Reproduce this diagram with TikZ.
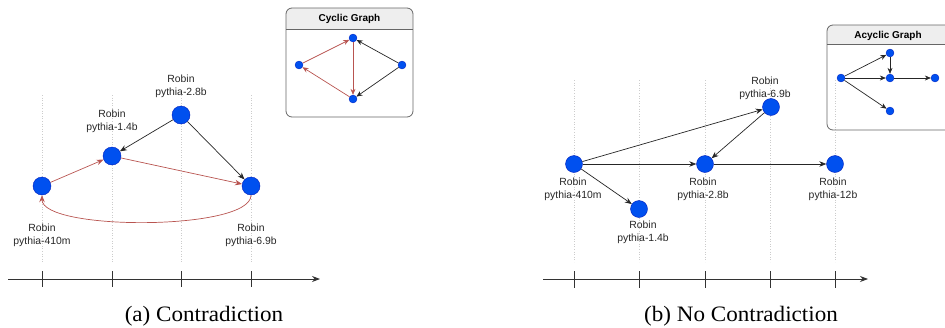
\documentclass[tikz,border=0pt]{standalone}
\usepackage{fontspec}
\setmainfont{Liberation Serif}
\newfontfamily\lsans{Liberation Sans}
\usetikzlibrary{arrows.meta}
\definecolor{nodeblue}{HTML}{0050EF}
\definecolor{nodeborder}{HTML}{001DBC}
\definecolor{redge}{HTML}{B85450}
\definecolor{gridgray}{HTML}{CCCCCC}
\definecolor{hdr}{HTML}{EEEEEE}
\definecolor{axisgray}{HTML}{333333}
\definecolor{boxgray}{HTML}{666666}
\begin{document}
\begin{tikzpicture}[x=1pt,y=-1pt,
  big/.style={circle,fill=nodeblue,draw=nodeborder,line width=0.4pt,minimum size=18pt,inner sep=0pt},
  bigr/.style={big,minimum size=17pt},
  dotnode/.style={circle,fill=nodeblue,draw=nodeborder,line width=0.3pt,minimum size=8pt,inner sep=0pt},
  lbl/.style={font=\lsans\fontsize{10.4}{13}\selectfont,align=center,inner sep=0pt,text=black!85},
  blkarrow/.style={draw=black!85,line width=0.7pt,-{Stealth[length=7pt,width=5.5pt]}},
  redarrow/.style={draw=redge,line width=0.7pt,-{Stealth[length=7pt,width=5.5pt]}},
  smallblk/.style={draw=black!85,line width=0.7pt,-{Stealth[length=6pt,width=5pt]}},
  smallred/.style={draw=redge,line width=0.7pt,-{Stealth[length=6pt,width=5pt]}},
  gridline/.style={draw=gridgray,dotted,line width=0.6pt},
  axisline/.style={draw=axisgray,line width=0.8pt},
  ticknode/.style={draw=axisgray,line width=0.8pt},
  boxframe/.style={draw=boxgray,line width=0.8pt,rounded corners=6pt},
  boxtitle/.style={font=\lsans\bfseries\fontsize{10}{12}\selectfont,inner sep=0pt},
  caption/.style={font=\fontsize{22}{26}\selectfont,xscale=1.05,inner sep=0pt,anchor=base}
]
\useasboundingbox (0,0) rectangle (945,327);
\clip (0,0) rectangle (945,327);

% ---------------- left panel ----------------
\foreach \x in {42,112,181,251} {
  \draw[gridline] (\x,95) -- (\x,262);
  \draw[ticknode] (\x,271) -- (\x,287);
}
\coordinate (axLs) at (8,279);
\coordinate (axLe) at (320,279);
\draw[axisline,-{Stealth[length=8pt,width=6pt]}] (axLs) -- (axLe);

\node[big] (a410) at (42,186) {};
\node[big] (a14) at (112,156) {};
\node[big] (a28) at (181,115) {};
\node[big] (a69) at (251,186) {};

\node[lbl] (la28) at (181,86.5) {Robin\\pythia-2.8b};
\node[lbl] (la14) at (112,121.5) {Robin\\pythia-1.4b};
\node[lbl] (la410) at (42,235) {Robin\\pythia-410m};
\node[lbl] (la69) at (251,235.5) {Robin\\pythia-6.9b};

\draw[redarrow] (a410) -- (a14);
\draw[redarrow] (a14) -- (a69);
\draw[blkarrow] (a28) -- (a14);
\draw[blkarrow] (a28) -- (a69);
\draw[redarrow] (a69.south) .. controls (251,231) and (42,231) .. (a410.south);

% cyclic inset
\begin{scope}
  \clip[rounded corners=6pt] (286,8) rectangle (413,117);
  \fill[hdr] (286,8) rectangle (413,29);
\end{scope}
\draw[boxframe] (286,8) rectangle (413,117);
\draw[draw=boxgray,line width=0.8pt] (286,29) -- (413,29);
\node[boxtitle] (tcyc) at (349.5,19) {Cyclic Graph};

\node[dotnode] (ct) at (353,38) {};
\node[dotnode] (cl) at (299,65) {};
\node[dotnode] (cr) at (402,65) {};
\node[dotnode] (cb) at (353,99) {};
\draw[smallred] (cl) -- (ct);
\draw[smallred] (ct) -- (cb);
\draw[smallred] (cb) -- (cl);
\draw[smallblk] (cr) -- (ct);
\draw[smallblk] (cr) -- (cb);

% ---------------- right panel ----------------
\foreach \x in {574,639,705,770,835} {
  \draw[gridline] (\x,80) -- (\x,262);
  \draw[ticknode] (\x,271) -- (\x,288);
}
\coordinate (axRs) at (543,279);
\coordinate (axRe) at (868,279);
\draw[axisline,-{Stealth[length=8pt,width=6pt]}] (axRs) -- (axRe);

\node[bigr] (b410) at (574,164) {};
\node[bigr] (b14) at (639,209) {};
\node[bigr] (b28) at (705,164) {};
\node[bigr] (b69) at (771,107) {};
\node[bigr] (b12) at (835,164) {};

\node[lbl] (lb69) at (765,88) {Robin\\pythia-6.9b};
\node[lbl] (lb410) at (573,189.5) {Robin\\pythia-410m};
\node[lbl] (lb28) at (703,189.5) {Robin\\pythia-2.8b};
\node[lbl] (lb12) at (833,189.5) {Robin\\pythia-12b};
\node[lbl] (lb14) at (643,232) {Robin\\pythia-1.4b};

\draw[blkarrow] (b410) -- (b69);
\draw[blkarrow] (b410) -- (b28);
\draw[blkarrow] (b410) -- (b14);
\draw[blkarrow] (b69) -- (b28);
\draw[blkarrow] (b28) -- (b12);

% acyclic inset
\begin{scope}
  \clip[rounded corners=6pt] (827,25) rectangle (960,130);
  \fill[hdr] (827,25) rectangle (960,44);
\end{scope}
\draw[boxframe] (827,25) rectangle (960,130);
\draw[draw=boxgray,line width=0.8pt] (827,44) -- (960,44);
\node[boxtitle] (tacy) at (888,35.5) {Acyclic Graph};

\node[dotnode] (al) at (841,78) {};
\node[dotnode] (at) at (890,53) {};
\node[dotnode] (am) at (890,78) {};
\node[dotnode] (ar) at (935,78) {};
\node[dotnode] (ab) at (890,111) {};
\draw[smallblk] (al) -- (at);
\draw[smallblk] (at) -- (am);
\draw[smallblk] (al) -- (am);
\draw[smallblk] (am) -- (ar);
\draw[smallblk] (al) -- (ab);

% captions
\node[caption] (capa) at (204,321) {(a) Contradiction};
\node[caption] (capb) at (741,321) {(b) No Contradiction};
\end{tikzpicture}
\end{document}
